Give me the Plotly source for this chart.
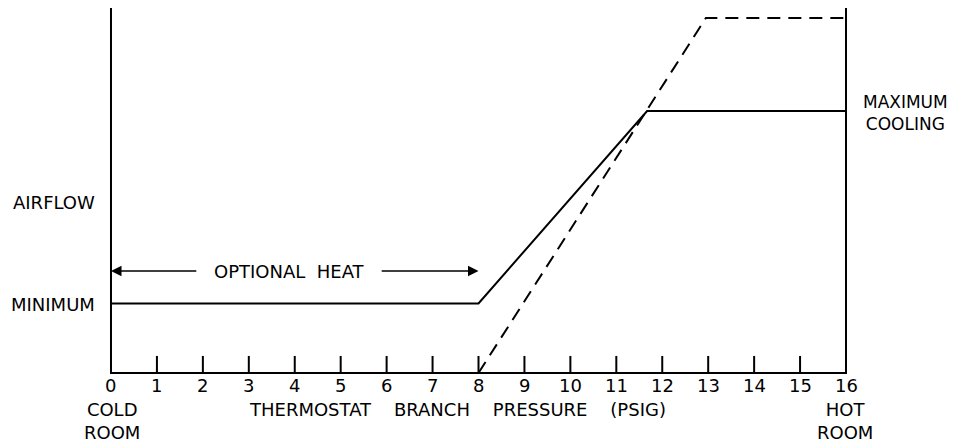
import plotly.graph_objects as go

# ---- data ----
pressure_ticks = list(range(0, 17))
tick_labels = [str(v) for v in pressure_ticks]
solid_x = [0, 8, 11.67, 16]
solid_y = [0.196, 0.196, 0.738, 0.738]
dashed_x = [8, 12.95, 16]
dashed_y = [0.0, 1.0, 1.0]
heat_range = [0, 8]
heat_level = 0.287
frame_top = 1.03
tick_height = 0.048

FONT = "DejaVu Sans"
FS = 18
fig = go.Figure()

# frame: left, bottom, right
fig.add_trace(go.Scatter(x=[0, 0, 16, 16], y=[frame_top, 0, 0, frame_top],
                         mode="lines", line=dict(color="black", width=2),
                         hoverinfo="skip", showlegend=False))
# ticks
tx, ty = [], []
for v in pressure_ticks[1:-1]:
    tx += [v, v, None]
    ty += [0, tick_height, None]
fig.add_trace(go.Scatter(x=tx, y=ty, mode="lines", line=dict(color="black", width=2),
                         hoverinfo="skip", showlegend=False))
# solid curve
fig.add_trace(go.Scatter(x=solid_x, y=solid_y, mode="lines",
                         line=dict(color="black", width=2), hoverinfo="skip", showlegend=False))
# dashed curve
fig.add_trace(go.Scatter(x=dashed_x, y=dashed_y, mode="lines",
                         line=dict(color="black", width=2, dash="13px,8px"),
                         hoverinfo="skip", showlegend=False))

# optional heat arrows
fig.add_annotation(x=heat_range[0], y=heat_level, ax=1.89, ay=heat_level, axref="x", ayref="y",
                   xref="x", yref="y", text="", showarrow=True, arrowhead=2, arrowsize=1.4,
                   arrowwidth=1.5, arrowcolor="black")
fig.add_annotation(x=heat_range[1], y=heat_level, ax=5.86, ay=heat_level, axref="x", ayref="y",
                   xref="x", yref="y", text="", showarrow=True, arrowhead=2, arrowsize=1.4,
                   arrowwidth=1.5, arrowcolor="black")
fig.add_annotation(x=3.88, y=heat_level, text="OPTIONAL  HEAT", showarrow=False,
                   font=dict(size=FS, family=FONT, color="black"))

# tick labels
for v, lab in zip(pressure_ticks, tick_labels):
    fig.add_annotation(x=v, y=-0.034, text=lab, showarrow=False, yanchor="middle",
                       font=dict(size=FS, family=FONT, color="black"))

# side labels
fig.add_annotation(x=-0.3, y=0.479, text="AIRFLOW", showarrow=False, xanchor="right",
                   font=dict(size=FS, family=FONT, color="black"))
fig.add_annotation(x=-0.3, y=0.194, text="MINIMUM", showarrow=False, xanchor="right",
                   font=dict(size=FS, family=FONT, color="black"))
fig.add_annotation(x=16.33, y=0.732, text="MAXIMUM<br>COOLING", showarrow=False, xanchor="left",
                   align="center", font=dict(size=17, family=FONT, color="black"))
fig.add_annotation(x=0.03, y=-0.135, text="COLD<br>ROOM", showarrow=False, yanchor="middle",
                   font=dict(size=FS, family=FONT, color="black"))
fig.add_annotation(x=15.98, y=-0.135, text="HOT<br>ROOM", showarrow=False, yanchor="middle",
                   font=dict(size=FS, family=FONT, color="black"))
fig.add_annotation(x=7.54, y=-0.104, text="THERMOSTAT    BRANCH    PRESSURE    (PSIG)",
                   showarrow=False, yanchor="middle",
                   font=dict(size=FS, family=FONT, color="black"))

# page has an 8px body margin: figure is 950x439 placed at (8, 8)
fig.update_layout(
    width=950, height=439,
    margin=dict(l=0, r=0, t=0, b=0),
    paper_bgcolor="white", plot_bgcolor="white",
    xaxis=dict(range=[-2.242, 18.438], visible=False, fixedrange=True),
    yaxis=dict(range=[-0.2085, 1.0282], visible=False, fixedrange=True),
    showlegend=False,
)
fig.write_html("out.html")
